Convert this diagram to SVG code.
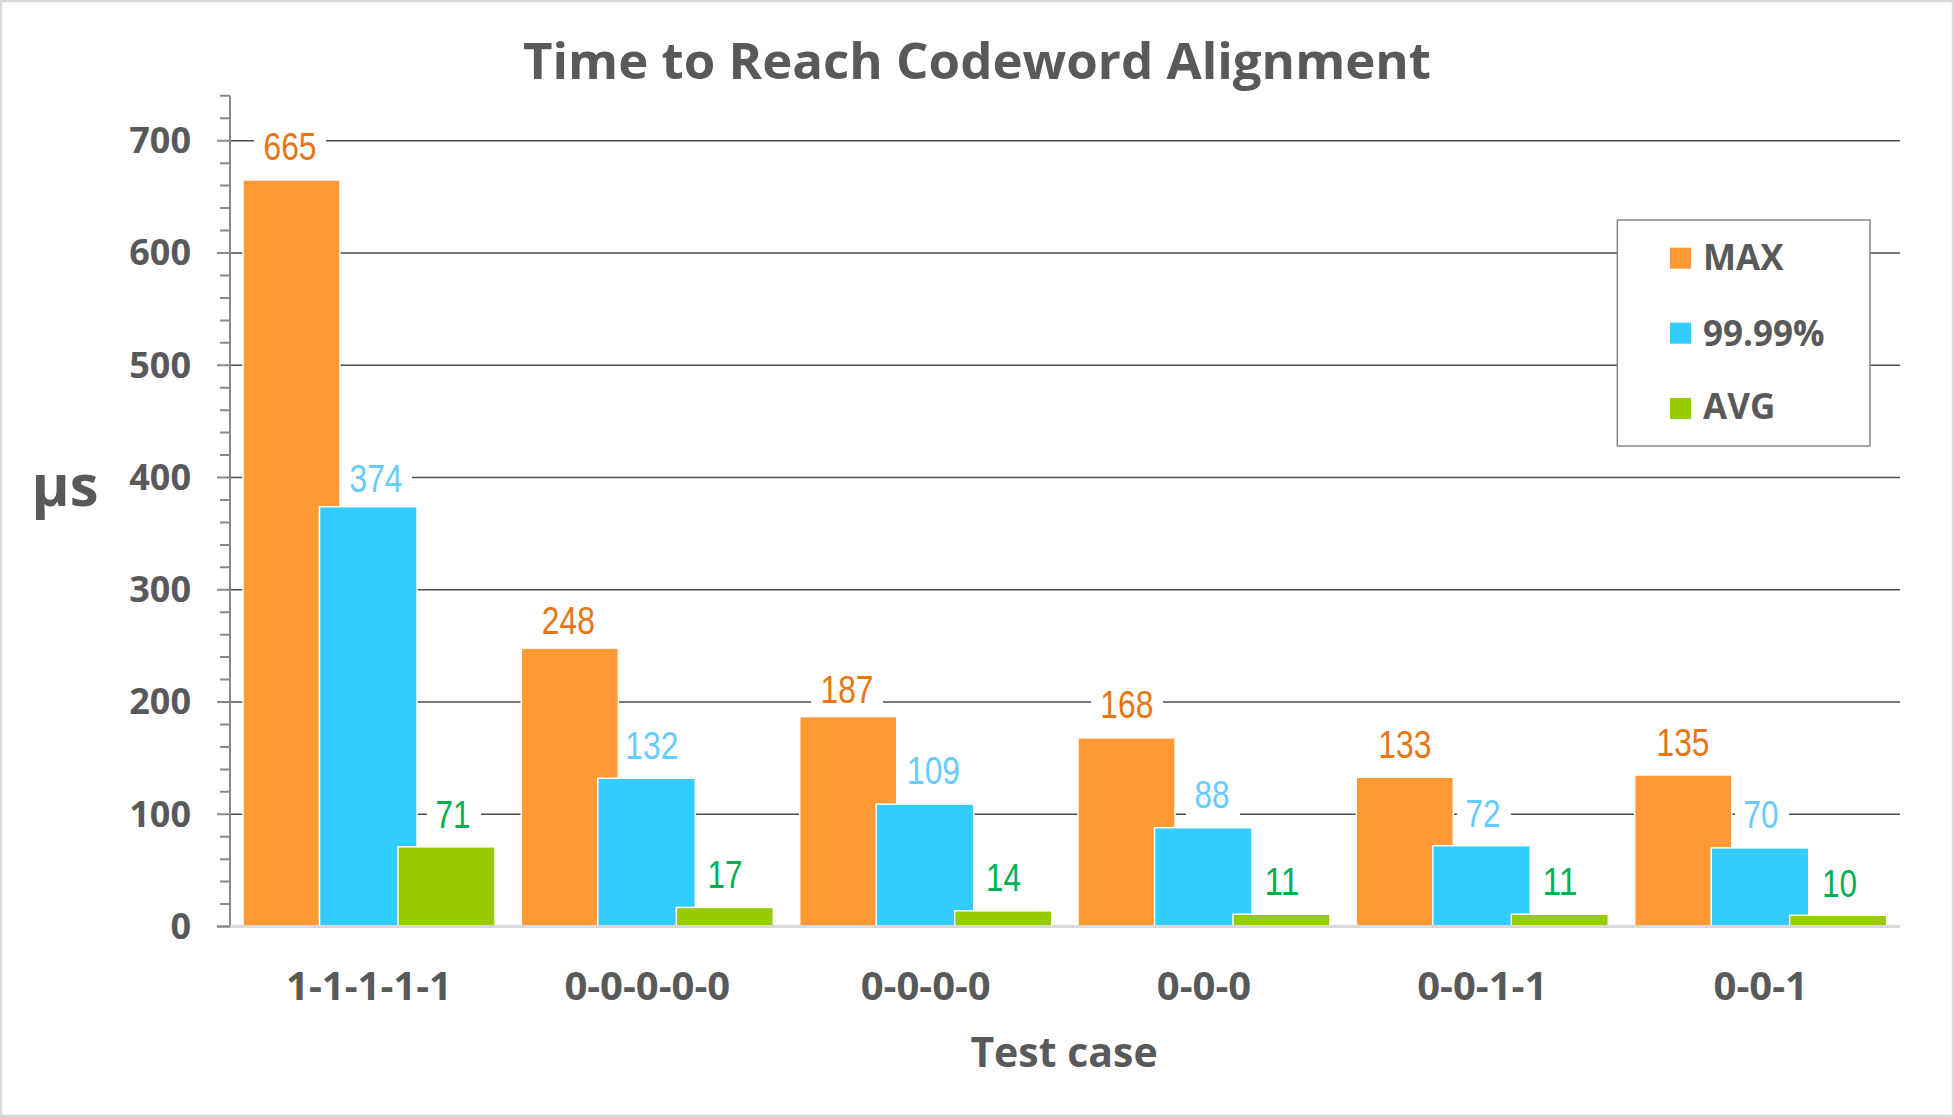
<svg xmlns="http://www.w3.org/2000/svg" width="1954" height="1117" viewBox="0 0 1954 1117">
  <style>
    .title { font-family: "Open Sans", "Liberation Sans", sans-serif; font-weight: 700; fill: #595959; }
    .tick { font-family: "Open Sans", "Liberation Sans", sans-serif; font-weight: 700; font-size: 36px; fill: #595959; text-anchor: end; }
    .cat { font-family: "Open Sans", "Liberation Sans", sans-serif; font-weight: 700; font-size: 40px; fill: #595959; text-anchor: middle; }
    .leg { font-family: "Open Sans", "Liberation Sans", sans-serif; font-weight: 700; font-size: 35px; fill: #595959; }
    .val { font-family: "Liberation Sans Narrow", "Arial Narrow", "Liberation Sans", sans-serif; font-size: 39px; text-anchor: middle; }
    .vmax { fill: #E87511; }
    .vpct { fill: #66CCFF; }
    .vavg { fill: #00B050; }
    .grid { stroke: #4d4d4d; stroke-width: 1.5; fill: none; }
    .axis { stroke: #898989; stroke-width: 2; fill: none; }
    .lblbg { fill: #ffffff; }
    .bar { stroke: #ffffff; stroke-width: 1.5; }
    .max { fill: #FF9933; }
    .pct { fill: #33CCFF; }
    .avg { fill: #99CC00; }
  </style>

  <!-- chart area -->
  <rect x="1" y="1" width="1952" height="1115" fill="#ffffff" stroke="#d9d9d9" stroke-width="2.5"/>

  <text class="title" x="977" y="79" font-size="51" text-anchor="middle">Time to Reach Codeword Alignment</text>

  <!-- horizontal gridlines -->
  <g id="gridlines">
    <line class="grid" x1="230" y1="814.25" x2="1900" y2="814.25"/>
    <line class="grid" x1="230" y1="702" x2="1900" y2="702"/>
    <line class="grid" x1="230" y1="589.75" x2="1900" y2="589.75"/>
    <line class="grid" x1="230" y1="477.5" x2="1900" y2="477.5"/>
    <line class="grid" x1="230" y1="365.25" x2="1900" y2="365.25"/>
    <line class="grid" x1="230" y1="253" x2="1900" y2="253"/>
    <line class="grid" x1="230" y1="140.75" x2="1900" y2="140.75"/>
  </g>

  <!-- value axis -->
  <g id="y-axis">
    <line class="axis" x1="230" y1="95.7" x2="230" y2="927"/>
    <path class="axis" d="M217 926.5H230M217 814.25H230M217 702H230M217 589.75H230M217 477.5H230M217 365.25H230M217 253H230M217 140.75H230"/>
    <path class="axis" d="M220 95.7H230M220 118.2H230M220 163.2H230M220 185.6H230M220 208.1H230M220 230.5H230M220 275.5H230M220 297.9H230M220 320.4H230M220 342.8H230M220 387.7H230M220 410.2H230M220 432.6H230M220 455.1H230M220 500H230M220 522.4H230M220 544.9H230M220 567.3H230M220 612.2H230M220 634.7H230M220 657.1H230M220 679.6H230M220 724.5H230M220 746.9H230M220 769.4H230M220 791.8H230M220 836.7H230M220 859.2H230M220 881.6H230M220 904.1H230"/>
    <text class="tick" x="191" y="939">0</text>
    <text class="tick" x="191" y="826.5">100</text>
    <text class="tick" x="191" y="714.3">200</text>
    <text class="tick" x="191" y="602">300</text>
    <text class="tick" x="191" y="489.8">400</text>
    <text class="tick" x="191" y="377.5">500</text>
    <text class="tick" x="191" y="265.3">600</text>
    <text class="tick" x="191" y="153">700</text>
    <text class="title" x="65" y="506" font-size="58" text-anchor="middle">µs</text>
  </g>

  <!-- white backing behind data labels (breaks the gridlines) -->
  <g id="label-backs">
    <rect class="lblbg" x="254" y="126" width="72" height="42"/>
    <rect class="lblbg" x="340" y="458" width="72" height="42"/>
    <rect class="lblbg" x="427" y="794" width="54" height="42"/>
    <rect class="lblbg" x="811" y="669" width="72" height="42"/>
    <rect class="lblbg" x="1091" y="684" width="72" height="42"/>
    <rect class="lblbg" x="1186" y="774" width="54" height="42"/>
    <rect class="lblbg" x="1457" y="793" width="54" height="42"/>
    <rect class="lblbg" x="1735" y="794" width="54" height="42"/>
  </g>

  <!-- bars -->
  <g id="case-1-1-1-1-1">
    <rect class="bar max" x="243" y="180" width="97" height="746.5"/>
    <rect class="bar pct" x="319.5" y="506.7" width="97.5" height="419.8"/>
    <rect class="bar avg" x="398" y="846.8" width="97" height="79.7"/>
  </g>
  <g id="case-0-0-0-0-0">
    <rect class="bar max" x="521.3" y="648.1" width="97" height="278.4"/>
    <rect class="bar pct" x="597.8" y="778.3" width="97.5" height="148.2"/>
    <rect class="bar avg" x="676.3" y="907.4" width="97" height="19.1"/>
  </g>
  <g id="case-0-0-0-0">
    <rect class="bar max" x="799.7" y="716.6" width="97" height="209.9"/>
    <rect class="bar pct" x="876.2" y="804.1" width="97.5" height="122.4"/>
    <rect class="bar avg" x="954.7" y="910.8" width="97" height="15.7"/>
  </g>
  <g id="case-0-0-0">
    <rect class="bar max" x="1078" y="737.9" width="97" height="188.6"/>
    <rect class="bar pct" x="1154.5" y="827.7" width="97.5" height="98.8"/>
    <rect class="bar avg" x="1233" y="914.2" width="97" height="12.3"/>
  </g>
  <g id="case-0-0-1-1">
    <rect class="bar max" x="1356.3" y="777.2" width="97" height="149.3"/>
    <rect class="bar pct" x="1432.8" y="845.7" width="97.5" height="80.8"/>
    <rect class="bar avg" x="1511.3" y="914.2" width="97" height="12.3"/>
  </g>
  <g id="case-0-0-1">
    <rect class="bar max" x="1634.7" y="775" width="97" height="151.5"/>
    <rect class="bar pct" x="1711.2" y="847.9" width="97.5" height="78.6"/>
    <rect class="bar avg" x="1789.7" y="915.3" width="97" height="11.2"/>
  </g>

  <!-- zero line -->
  <line x1="230" y1="926.5" x2="1900" y2="926.5" stroke="#d9d9d9" stroke-width="3"/>
  <line x1="217" y1="926.5" x2="230" y2="926.5" stroke="#898989" stroke-width="2"/>

  <!-- data labels (narrow figures) -->
  <g id="data-labels">
    <text class="val vmax" x="290" y="160" textLength="53" lengthAdjust="spacingAndGlyphs">665</text>
    <text class="val vpct" x="376" y="491.7" textLength="53" lengthAdjust="spacingAndGlyphs">374</text>
    <text class="val vavg" x="453" y="828.3" textLength="35" lengthAdjust="spacingAndGlyphs">71</text>

    <text class="val vmax" x="568.3" y="634" textLength="53" lengthAdjust="spacingAndGlyphs">248</text>
    <text class="val vpct" x="651.8" y="759" textLength="53" lengthAdjust="spacingAndGlyphs">132</text>
    <text class="val vavg" x="725" y="888.3" textLength="35" lengthAdjust="spacingAndGlyphs">17</text>

    <text class="val vmax" x="847" y="703.3" textLength="53" lengthAdjust="spacingAndGlyphs">187</text>
    <text class="val vpct" x="933.5" y="784" textLength="53" lengthAdjust="spacingAndGlyphs">109</text>
    <text class="val vavg" x="1003.5" y="890.7" textLength="35" lengthAdjust="spacingAndGlyphs">14</text>

    <text class="val vmax" x="1126.8" y="718.3" textLength="53" lengthAdjust="spacingAndGlyphs">168</text>
    <text class="val vpct" x="1212" y="808.3" textLength="35" lengthAdjust="spacingAndGlyphs">88</text>
    <text class="val vavg" x="1282" y="895" textLength="35" lengthAdjust="spacingAndGlyphs">11</text>

    <text class="val vmax" x="1404.8" y="758.3" textLength="53" lengthAdjust="spacingAndGlyphs">133</text>
    <text class="val vpct" x="1483" y="827.3" textLength="35" lengthAdjust="spacingAndGlyphs">72</text>
    <text class="val vavg" x="1560" y="895" textLength="35" lengthAdjust="spacingAndGlyphs">11</text>

    <text class="val vmax" x="1683" y="756" textLength="53" lengthAdjust="spacingAndGlyphs">135</text>
    <text class="val vpct" x="1761" y="828.3" textLength="35" lengthAdjust="spacingAndGlyphs">70</text>
    <text class="val vavg" x="1839.4" y="896.7" textLength="35" lengthAdjust="spacingAndGlyphs">10</text>
  </g>

  <!-- category axis -->
  <g id="x-axis">
    <text class="cat" x="369" y="999.5">1-1-1-1-1</text>
    <text class="cat" x="647.3" y="999.5">0-0-0-0-0</text>
    <text class="cat" x="925.7" y="999.5">0-0-0-0</text>
    <text class="cat" x="1204" y="999.5">0-0-0</text>
    <text class="cat" x="1482.3" y="999.5">0-0-1-1</text>
    <text class="cat" x="1760.7" y="999.5">0-0-1</text>
    <text class="title" x="1064" y="1066.7" font-size="41" text-anchor="middle">Test case</text>
  </g>

  <!-- legend -->
  <g id="legend">
    <rect x="1617.3" y="220" width="252.7" height="226" fill="#ffffff" stroke="#898989" stroke-width="1.5"/>
    <rect class="max" x="1670" y="247.7" width="21" height="21"/>
    <text class="leg" x="1703" y="270">MAX</text>
    <rect class="pct" x="1670" y="322.7" width="21" height="21"/>
    <text class="leg" x="1703" y="345.7">99.99%</text>
    <rect class="avg" x="1670" y="398" width="21" height="21"/>
    <text class="leg" x="1703" y="419.3">AVG</text>
  </g>
</svg>
